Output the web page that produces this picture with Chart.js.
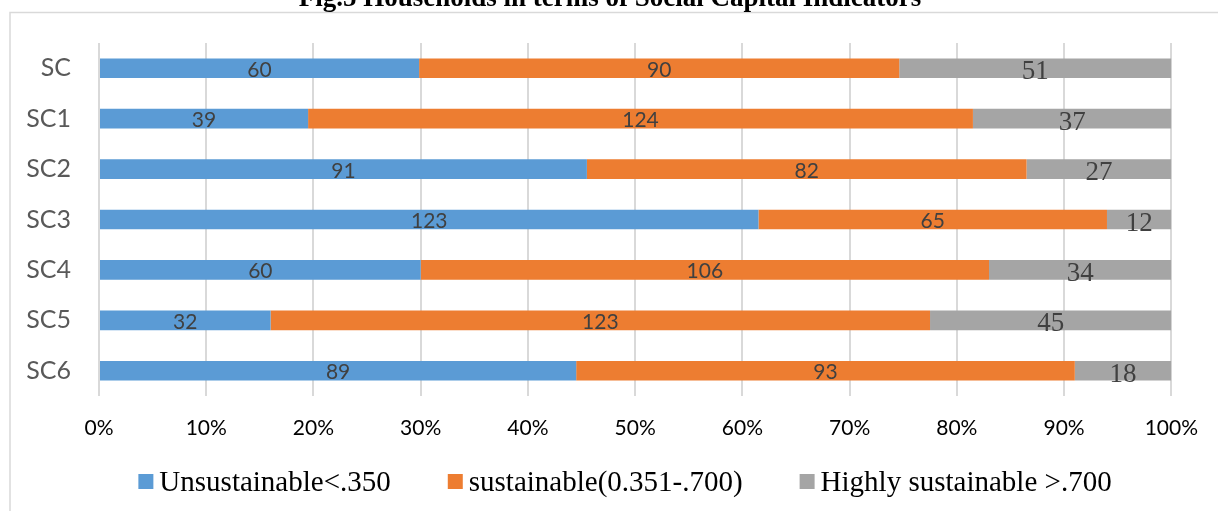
<!DOCTYPE html>
<html>
<head>
<meta charset="utf-8">
<script src="https://cdn.jsdelivr.net/npm/chart.js@4.4.1/dist/chart.umd.min.js"></script>
<style>
  html, body { margin: 0; padding: 0; background: #ffffff; }
  #wrap { position: relative; width: 1218px; height: 511px; overflow: hidden; }
  canvas { display: block; }
</style>
</head>
<body>
<div id="wrap"><canvas id="chart" width="1218" height="511"></canvas></div>
<script>
// Households per indicator, by sustainability class
const categories = ['SC', 'SC1', 'SC2', 'SC3', 'SC4', 'SC5', 'SC6'];
const unsustainable = [60, 39, 91, 123, 60, 32, 89];
const sustainable = [90, 124, 82, 65, 106, 123, 93];
const highlySustainable = [51, 37, 27, 12, 34, 45, 18];
const seriesNames = ['Unsustainable<.350', 'sustainable(0.351-.700)', 'Highly sustainable >.700'];
const seriesColors = ['#5B9BD5', '#ED7D31', '#A5A5A5'];
const titleText = 'Fig.5 Households in terms of Social Capital Indicators';

const SANS = 'Lato, "Open Sans", sans-serif';
const SERIF = '"Liberation Serif", "Times New Roman", serif';

// 100% stacking: each segment is its share of the row total
const rawSeries = [unsustainable, sustainable, highlySustainable];
const totals = categories.map((_, i) => rawSeries.reduce((s, arr) => s + arr[i], 0));
const toShare = arr => arr.map((v, i) => v / totals[i] * 100);

const datasets = rawSeries.map((arr, k) => ({
  label: seriesNames[k],
  data: toShare(arr),
  raw: arr,
  backgroundColor: seriesColors[k],
  borderWidth: 0,
  barPercentage: 0.39,
  categoryPercentage: 1.0
}));

// frame, title and legend drawn around the plot
const framePlugin = {
  id: 'frame',
  beforeDraw(chart) {
    const ctx = chart.ctx;
    ctx.save();
    ctx.fillStyle = '#ffffff';
    ctx.fillRect(0, 0, chart.width, chart.height);
    ctx.strokeStyle = '#D9D9D9';
    ctx.lineWidth = 1.5;
    ctx.strokeRect(10, 12.5, 1400, 700);
    ctx.fillStyle = '#000000';
    ctx.font = 'bold 27px ' + SERIF;
    ctx.textAlign = 'center';
    ctx.textBaseline = 'alphabetic';
    ctx.fillText(titleText, 610, 6);
    ctx.restore();
  },
  afterDraw(chart) {
    const ctx = chart.ctx;
    ctx.save();
    ctx.font = '29px ' + SERIF;
    const box = 15, gap = 6, itemGap = 57;
    const items = chart.data.datasets.map(ds => ({
      text: ds.label, color: ds.backgroundColor, w: ctx.measureText(ds.label).width
    }));
    const total = items.reduce((s, it) => s + box + gap + it.w, 0) + itemGap * (items.length - 1);
    let x = 625 - total / 2;
    ctx.textAlign = 'left';
    ctx.textBaseline = 'alphabetic';
    items.forEach(it => {
      ctx.fillStyle = it.color;
      ctx.fillRect(x, 474, box, box);
      ctx.fillStyle = '#000000';
      ctx.fillText(it.text, x + box + gap, 491);
      x += box + gap + it.w + itemGap;
    });
    ctx.restore();
  }
};

// value labels centred in each segment
const valueLabels = {
  id: 'valueLabels',
  afterDatasetsDraw(chart) {
    const ctx = chart.ctx;
    ctx.save();
    ctx.textAlign = 'center';
    ctx.textBaseline = 'alphabetic';
    chart.data.datasets.forEach((ds, k) => {
      const meta = chart.getDatasetMeta(k);
      ctx.font = k === 2 ? '27px ' + SERIF : '21px ' + SANS;
      ctx.fillStyle = '#404040';
      meta.data.forEach((bar, i) => {
        const p = bar.getProps(['x', 'y', 'base'], true);
        const cx = (p.x + p.base) / 2;
        const txt = String(ds.raw[i]);
        const m = ctx.measureText(txt);
        const asc = m.actualBoundingBoxAscent;
        ctx.fillText(txt, cx, p.y + asc / 2 + (k === 2 ? 2 : 1));
      });
    });
    ctx.restore();
  }
};

new Chart(document.getElementById('chart'), {
  type: 'bar',
  data: { labels: categories, datasets },
  plugins: [framePlugin, valueLabels],
  options: {
    indexAxis: 'y',
    responsive: false,
    animation: false,
    devicePixelRatio: 1,
    layout: { padding: { top: 41, left: 0, right: 41, bottom: 0 } },
    plugins: {
      legend: { display: false },
      title: { display: false },
      tooltip: { enabled: false }
    },
    scales: {
      x: {
        stacked: true,
        min: 0,
        max: 100,
        afterFit(scale) { scale.height = 115; },
        ticks: {
          stepSize: 10,
          padding: 20,
          color: '#000000',
          font: { family: SANS, size: 21 },
          callback: v => v + '%'
        },
        grid: { color: '#D9D9D9', lineWidth: 2, drawTicks: false },
        border: { display: false }
      },
      y: {
        stacked: true,
        afterFit(scale) { scale.width = 99; },
        ticks: {
          padding: 28,
          color: '#595959',
          font: { family: SANS, size: 25 }
        },
        grid: { display: false, drawTicks: false },
        border: { display: false }
      }
    }
  }
});
</script>
</body>
</html>
